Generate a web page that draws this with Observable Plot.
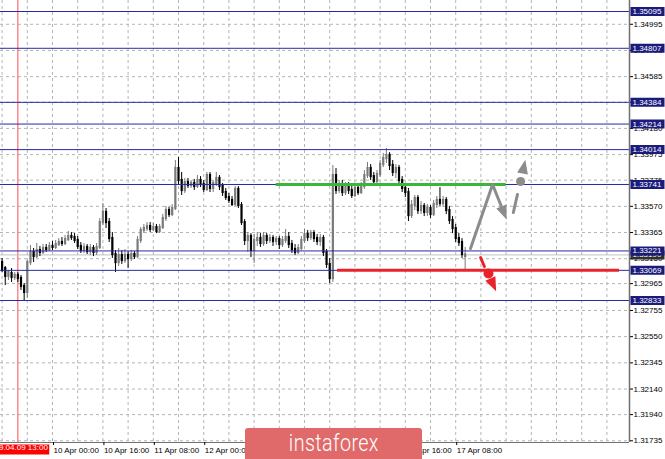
<!DOCTYPE html>
<html><head><meta charset="utf-8">
<script src="https://cdn.jsdelivr.net/npm/d3@7"></script>
<script src="https://cdn.jsdelivr.net/npm/@observablehq/plot@0.6"></script>
<style>
html,body{margin:0;padding:0;background:#fff;}
#wrap{position:relative;width:665px;height:459px;overflow:hidden;}
#logo{position:absolute;left:245px;top:428px;width:177px;height:40px;background:#e06a6a;border-radius:3px;color:#fff;font-family:Roboto,sans-serif;font-weight:300;font-size:24px;text-align:center;line-height:30px;letter-spacing:0.5px;}
#logo span{display:inline-block;transform:scaleX(0.82);}
</style></head>
<body><div id="wrap"><div id="logo"><span>instaforex</span></div></div>
<script>
// ---- data ----
const firstBar = -16; // bar index of first candle (bar 0 = 10 Apr 00:00, H1)
const open = [
1.33130,1.33083,1.33021,1.33044,1.33013,1.33029,1.33005,1.32943,1.32896,1.33130,1.33209,1.33177,1.33224,1.33209,1.33240,1.33232,
1.33256,1.33248,1.33271,1.33287,1.33279,1.33310,1.33334,1.33326,1.33303,1.33256,1.33224,1.33248,1.33216,1.33240,1.33209,1.33248,
1.33443,1.33522,1.33443,1.33318,1.33193,1.33130,1.33185,1.33146,1.33185,1.33162,1.33193,1.33177,1.33303,1.33381,1.33396,1.33412,
1.33389,1.33404,1.33373,1.33404,1.33475,1.33537,1.33506,1.33553,1.33866,1.33772,1.33694,1.33756,1.33733,1.33749,1.33725,1.33772,
1.33741,1.33702,1.33811,1.33710,1.33749,1.33788,1.33725,1.33678,1.33639,1.33616,1.33584,1.33702,1.33576,1.33443,1.33303,1.33334,
1.33224,1.33303,1.33318,1.33279,1.33334,1.33303,1.33318,1.33295,1.33310,1.33271,1.33303,1.33326,1.33271,1.33232,1.33209,1.33240,
1.33303,1.33349,1.33326,1.33357,1.33318,1.33295,1.33318,1.33209,1.33115,1.33005,1.33811,1.33694,1.33733,1.33678,1.33725,1.33694,
1.33655,1.33710,1.33678,1.33725,1.33811,1.33866,1.33803,1.33764,1.33819,1.33897,1.33944,1.33968,1.33890,1.33835,1.33866,1.33772,
1.33710,1.33678,1.33498,1.33576,1.33631,1.33537,1.33569,1.33522,1.33553,1.33506,1.33584,1.33616,1.33592,1.33616,1.33537,1.33459,
1.33396,1.33318,1.33287,1.33177];
const close = [
1.33068,1.33021,1.33052,1.33013,1.33029,1.33005,1.32943,1.32896,1.33130,1.33209,1.33177,1.33224,1.33209,1.33240,1.33232,1.33256,
1.33248,1.33271,1.33287,1.33279,1.33310,1.33334,1.33326,1.33303,1.33256,1.33224,1.33248,1.33216,1.33240,1.33209,1.33248,1.33443,
1.33522,1.33443,1.33318,1.33193,1.33130,1.33185,1.33146,1.33185,1.33162,1.33193,1.33177,1.33303,1.33381,1.33396,1.33412,1.33389,
1.33404,1.33373,1.33404,1.33475,1.33537,1.33506,1.33553,1.33866,1.33772,1.33694,1.33756,1.33733,1.33749,1.33725,1.33772,1.33741,
1.33702,1.33811,1.33710,1.33749,1.33788,1.33725,1.33678,1.33639,1.33616,1.33584,1.33702,1.33576,1.33443,1.33303,1.33334,1.33224,
1.33303,1.33318,1.33279,1.33334,1.33303,1.33318,1.33295,1.33310,1.33271,1.33303,1.33326,1.33271,1.33232,1.33209,1.33240,1.33303,
1.33349,1.33326,1.33357,1.33318,1.33295,1.33318,1.33209,1.33115,1.33005,1.33811,1.33694,1.33733,1.33678,1.33725,1.33694,1.33655,
1.33710,1.33678,1.33725,1.33811,1.33866,1.33803,1.33764,1.33819,1.33897,1.33944,1.33968,1.33890,1.33835,1.33866,1.33772,1.33710,
1.33678,1.33498,1.33576,1.33631,1.33537,1.33569,1.33522,1.33553,1.33506,1.33584,1.33616,1.33592,1.33616,1.33537,1.33459,1.33396,
1.33318,1.33287,1.33193,1.33190];
const high = [
1.33162,1.33099,1.33068,1.33083,1.33052,1.33052,1.33029,1.32966,1.33146,1.33263,1.33240,1.33279,1.33256,1.33271,1.33271,1.33287,
1.33295,1.33303,1.33318,1.33326,1.33342,1.33373,1.33365,1.33357,1.33334,1.33287,1.33279,1.33271,1.33271,1.33263,1.33279,1.33475,
1.33592,1.33553,1.33475,1.33365,1.33224,1.33240,1.33224,1.33232,1.33216,1.33224,1.33216,1.33334,1.33404,1.33428,1.33443,1.33443,
1.33436,1.33428,1.33428,1.33506,1.33569,1.33561,1.33584,1.33929,1.33952,1.33835,1.33788,1.33788,1.33772,1.33780,1.33811,1.33803,
1.33772,1.33835,1.33835,1.33772,1.33835,1.33811,1.33749,1.33710,1.33670,1.33647,1.33725,1.33725,1.33600,1.33467,1.33365,1.33357,
1.33349,1.33365,1.33357,1.33365,1.33357,1.33349,1.33342,1.33334,1.33334,1.33334,1.33389,1.33365,1.33303,1.33271,1.33271,1.33334,
1.33389,1.33381,1.33381,1.33381,1.33349,1.33349,1.33342,1.33232,1.33162,1.33890,1.33866,1.33772,1.33772,1.33756,1.33756,1.33725,
1.33733,1.33741,1.33756,1.33850,1.33913,1.33897,1.33835,1.33850,1.33929,1.33984,1.34023,1.33991,1.33929,1.33897,1.33890,1.33803,
1.33749,1.33710,1.33616,1.33655,1.33655,1.33608,1.33592,1.33584,1.33576,1.33616,1.33647,1.33717,1.33647,1.33639,1.33569,1.33490,
1.33428,1.33357,1.33318,1.33248];
const low = [
1.33052,1.32950,1.32989,1.32974,1.32989,1.32974,1.32911,1.32833,1.32849,1.33107,1.33130,1.33162,1.33177,1.33193,1.33209,1.33216,
1.33224,1.33232,1.33256,1.33256,1.33263,1.33295,1.33303,1.33279,1.33232,1.33201,1.33201,1.33193,1.33185,1.33177,1.33185,1.33232,
1.33420,1.33396,1.33287,1.33162,1.33052,1.33099,1.33115,1.33123,1.33083,1.33138,1.33154,1.33162,1.33279,1.33357,1.33373,1.33365,
1.33373,1.33357,1.33357,1.33389,1.33451,1.33483,1.33490,1.33537,1.33733,1.33655,1.33670,1.33710,1.33710,1.33694,1.33710,1.33717,
1.33678,1.33686,1.33678,1.33678,1.33725,1.33694,1.33647,1.33616,1.33592,1.33569,1.33569,1.33553,1.33420,1.33263,1.33209,1.33169,
1.33123,1.33256,1.33248,1.33256,1.33271,1.33279,1.33256,1.33263,1.33232,1.33248,1.33279,1.33240,1.33201,1.33185,1.33193,1.33224,
1.33279,1.33295,1.33303,1.33287,1.33263,1.33256,1.33177,1.33083,1.32966,1.32974,1.33663,1.33670,1.33647,1.33655,1.33663,1.33631,
1.33639,1.33655,1.33663,1.33702,1.33788,1.33772,1.33741,1.33741,1.33796,1.33874,1.33905,1.33850,1.33803,1.33788,1.33741,1.33678,
1.33639,1.33451,1.33475,1.33537,1.33506,1.33506,1.33490,1.33490,1.33475,1.33490,1.33553,1.33569,1.33561,1.33506,1.33428,1.33357,
1.33287,1.33256,1.33162,1.33068];

const levels = [1.35095, 1.34807, 1.34384, 1.34214, 1.34014, 1.33741, 1.33221, 1.33069, 1.32833];
const currentPrice = 1.33190;
const yTicks = [1.31735,1.31940,1.32140,1.32345,1.32550,1.32755,1.32965,1.33160,1.33365,1.33570,1.33775,1.33975,1.34180,1.34385,1.34585,1.34790,1.34995];
const xTickBars = [0, 16, 32, 48, 64, 80, 96, 112, 128];
const xTickLabels = ["10 Apr 00:00","10 Apr 16:00","11 Apr 08:00","12 Apr 00:00","12 Apr 16:00","15 Apr 08:00","16 Apr 00:00","16 Apr 16:00","17 Apr 08:00"];
const vLineBar = -11;
const vLineLabel = "2019.04.09 13:00";
const greenSeg = [{from: 71, to: 144, price: 1.33741}];
const redSeg = [{from: 90.5, to: 180, price: 1.33069}];
// forecast arrows (bar, price)
const grayPath = [{i: 132.7, p: 1.33240}, {i: 139.7, p: 1.33741}, {i: 142.5, p: 1.33569}];
const grayHead = [{i: 142.5, p: 1.33569}];
const grayDash = [{i: 146.3, p: 1.33522}, {i: 147.6, p: 1.33663}];
const grayDot = [{i: 148.6, p: 1.33764}];
const grayUpHead = [{i: 149.2, p: 1.33827}];
const redDash = [{i: 135.9, p: 1.33169}, {i: 137.1, p: 1.33099}];
const redDot = [{i: 138.4, p: 1.33044}];
const redHead = [{i: 139.0, p: 1.33005}];

// ---- chart ----
const xDomain = [-16.51, 183.17];
const yDomain = [1.317216, 1.351811];
const candles = open.map((o, k) => ({i: firstBar + k, o, c: close[k], h: high[k], l: low[k]}));
const candleColor = d => d.c >= d.o ? "#7a7a7a" : "#000000";
const tickLabel = new Map(xTickBars.map((b, k) => [b, xTickLabels[k]]));
const gridBars = d3.range(-16, 184, 8);

const boxSym = {draw(ctx) { ctx.rect(1, -4.5, 34, 9); }};
const vBoxSym = {draw(ctx) { ctx.rect(-60, 2, 91.4, 10); }};
const headSym = {draw(ctx) { ctx.moveTo(0, -14); ctx.lineTo(5.5, 0); ctx.lineTo(-5.5, 0); ctx.closePath(); }};
const navy = "#1b1b7c";
const lineBlue = "#2a2aa0";
const grayA = "#8c8c8c";
const redA = "#e8232a";

const chart = Plot.plot({
  width: 665, height: 459,
  marginLeft: 0, marginRight: 36, marginTop: 0, marginBottom: 17,
  x: {domain: xDomain},
  y: {domain: yDomain},
  style: {fontFamily: "'Liberation Sans', Arial, sans-serif", fontSize: "8px", background: "white", overflow: "visible"},
  marks: [
    Plot.gridY(yTicks, {stroke: "#b4b4b4", strokeOpacity: 1, strokeDasharray: "3,3"}),
    Plot.gridX(gridBars, {stroke: "#b4b4b4", strokeOpacity: 1, strokeDasharray: "3,3"}),
    Plot.ruleX([vLineBar], {stroke: "#ff5050", strokeWidth: 1}),
    Plot.ruleY([currentPrice], {stroke: "#c0c0c0", strokeWidth: 1}),
    Plot.ruleX(candles, {x: "i", y1: "l", y2: "h", stroke: candleColor, strokeWidth: 1}),
    Plot.ruleX(candles, {x: "i", y1: "o", y2: "c", stroke: candleColor, strokeWidth: 2.2, strokeLinecap: "square"}),
    Plot.ruleY(levels, {stroke: lineBlue, strokeWidth: 1}),
    Plot.ruleY(greenSeg, {y: "price", x1: "from", x2: "to", stroke: "#3cb53c", strokeWidth: 3}),
    Plot.ruleY(redSeg, {y: "price", x1: "from", x2: "to", stroke: redA, strokeWidth: 3}),
    Plot.line(grayPath, {x: "i", y: "p", stroke: grayA, strokeWidth: 3}),
    Plot.dot(grayHead, {x: "i", y: "p", symbol: headSym, rotate: 158, fill: grayA, stroke: "none"}),
    Plot.line(grayDash, {x: "i", y: "p", stroke: grayA, strokeWidth: 3}),
    Plot.dot(grayDot, {x: "i", y: "p", r: 4.5, fill: grayA, stroke: "none"}),
    Plot.dot(grayUpHead, {x: "i", y: "p", symbol: headSym, rotate: 11.5, fill: grayA, stroke: "none"}),
    Plot.line(redDash, {x: "i", y: "p", stroke: redA, strokeWidth: 3}),
    Plot.dot(redDot, {x: "i", y: "p", r: 5, fill: redA, stroke: "none"}),
    Plot.dot(redHead, {x: "i", y: "p", symbol: headSym, rotate: 155.6, fill: redA, stroke: "none"}),
    Plot.ruleX([xDomain[1]], {stroke: "#707070", strokeWidth: 1.5}),
    Plot.ruleY([yDomain[0]], {stroke: "#707070", strokeWidth: 1}),
    Plot.axisY(yTicks, {anchor: "right", tickSize: 3, tickPadding: 1, tickFormat: d => d.toFixed(5), fontSize: 8, fill: "#000", stroke: "#000", label: null}),
    Plot.axisX(xTickBars, {anchor: "bottom", tickSize: 3, tickPadding: 2, tickFormat: d => tickLabel.get(d), textAnchor: "start", dx: 1, fontSize: 8, fill: "#000", stroke: "#000", label: null}),
    Plot.dot([currentPrice], {y: d => d, frameAnchor: "right", symbol: boxSym, fill: "#303030", stroke: "none"}),
    Plot.text([currentPrice], {y: d => d, text: d => d.toFixed(5), frameAnchor: "right", dx: 3, textAnchor: "start", fill: "white", fontSize: 8}),
    Plot.dot(levels, {y: d => d, frameAnchor: "right", symbol: boxSym, fill: navy, stroke: "none"}),
    Plot.text(levels, {y: d => d, text: d => d.toFixed(5), frameAnchor: "right", dx: 3, textAnchor: "start", fill: "white", fontSize: 8}),
    Plot.dot([vLineBar], {x: d => d, frameAnchor: "bottom", symbol: vBoxSym, fill: "#ff0000", stroke: "none"}),
    Plot.text([vLineBar], {x: d => d, frameAnchor: "bottom", text: () => vLineLabel, textAnchor: "end", dx: 30, dy: 7, fill: "white", fontSize: 8})
  ]
});
const wrap = document.getElementById("wrap");
wrap.insertBefore(chart, document.getElementById("logo"));
</script>
</body></html>
